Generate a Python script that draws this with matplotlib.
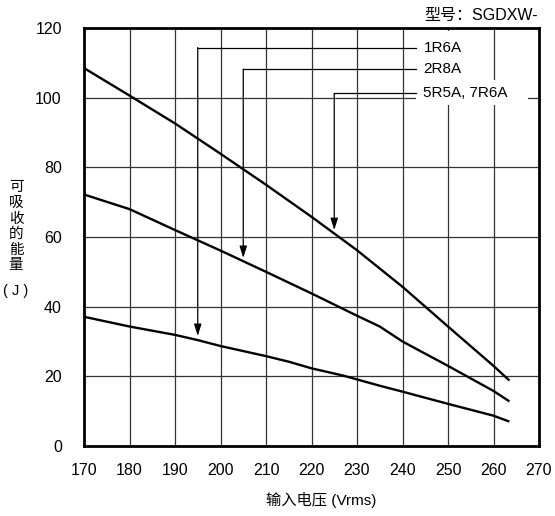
import matplotlib
matplotlib.use("Agg")
import matplotlib.pyplot as plt
from matplotlib.patches import Rectangle

plt.rcParams['font.family'] = ['Liberation Sans', 'Noto Sans CJK SC', 'DejaVu Sans']

# ---- data ----
v_top = [170, 180, 190, 200, 210, 220, 230, 240, 250, 260, 263.5]
e_top = [108.5, 100.6, 92.6, 83.9, 75.0, 65.8, 56.2, 45.7, 34.3, 23.0, 18.8]   # 5R5A, 7R6A

v_mid = [170, 180, 190, 200, 210, 220, 230, 235, 240, 250, 260, 263.5]
e_mid = [72.2, 68.0, 62.0, 56.1, 50.0, 43.8, 37.4, 34.3, 30.0, 23.0, 15.8, 12.8]  # 2R8A

v_bot = [170, 180, 190, 195, 200, 210, 215, 220, 227, 235, 240, 250, 260, 263.5]
e_bot = [37.1, 34.3, 31.9, 30.4, 28.7, 25.8, 24.2, 22.3, 20.2, 17.3, 15.6, 12.1, 8.7, 7.0]  # 1R6A

labels = ["1R6A", "2R8A", "5R5A, 7R6A"]
label_y = [114.4, 108.2, 101.2]
arrow_x = [195, 205, 225]
arrow_tip = [31.6, 54.0, 62.0]

x_ticks = [170, 180, 190, 200, 210, 220, 230, 240, 250, 260, 270]
y_ticks = [0, 20, 40, 60, 80, 100, 120]

fig = plt.figure(figsize=(5.55, 5.16), dpi=100)
ax = fig.add_axes([84/555, 1-446/516, (539-84)/555, (446-28)/516])
ax.set_xlim(170, 270)
ax.set_ylim(0, 120)
ax.set_xticks(x_ticks)
ax.set_yticks(y_ticks)
ax.tick_params(length=0, labelsize=11.5)
ax.tick_params(axis='y', pad=16)
ax.tick_params(axis='x', pad=12.5)
for s in ax.spines.values():
    s.set_linewidth(2.0)
    s.set_zorder(6)

ax.grid(True, color='#333333', linewidth=0.9, zorder=0)
ax.set_axisbelow(True)

for v, e in [(v_top, e_top), (v_mid, e_mid), (v_bot, e_bot)]:
    ax.plot(v, e, color='black', linewidth=1.7, zorder=3, solid_capstyle='butt')

# white boxes behind labels
ax.add_patch(Rectangle((243.0, 105.1), 254.4 - 243.0, 119.0 - 105.1,
                       facecolor='white', edgecolor='none', zorder=2))
ax.add_patch(Rectangle((243.0, 97.9), 267.6 - 243.0, 105.1 - 97.9,
                       facecolor='white', edgecolor='none', zorder=2))

for lab, ly, axv, tip in zip(labels, label_y, arrow_x, arrow_tip):
    ax.plot([axv, 243.0], [ly, ly], color='black', linewidth=0.9, zorder=4)
    ax.annotate('', xy=(axv, tip), xytext=(axv, ly),
                arrowprops=dict(arrowstyle='-|>,head_length=0.7,head_width=0.22',
                                color='black', lw=0.9, shrinkA=0, shrinkB=0),
                zorder=4)
    ax.text(244.6, ly, lab, fontsize=11, va='center', ha='left', zorder=5)

# title at top right
fig.text(538/555, 1-15/516, "型号：SGDXW-", fontsize=11.5, ha='right', va='center')

# y label, stacked characters
ychars = ["可", "吸", "收", "的", "能", "量"]
ycent = [187.5, 202.5, 218.5, 233.5, 250, 265]
for ch, yc in zip(ychars, ycent):
    fig.text(16/555, 1-yc/516, ch, fontsize=10.5, ha='center', va='center',
             family=['Noto Sans CJK SC'])
fig.text(16/555, 1-290.5/516, "( J )", fontsize=10.5, ha='center', va='center')

# x label
fig.text(321/555, 1-500/516, "输入电压 (Vrms)", fontsize=11, ha='center', va='center')

fig.savefig("out.png", dpi=100)
